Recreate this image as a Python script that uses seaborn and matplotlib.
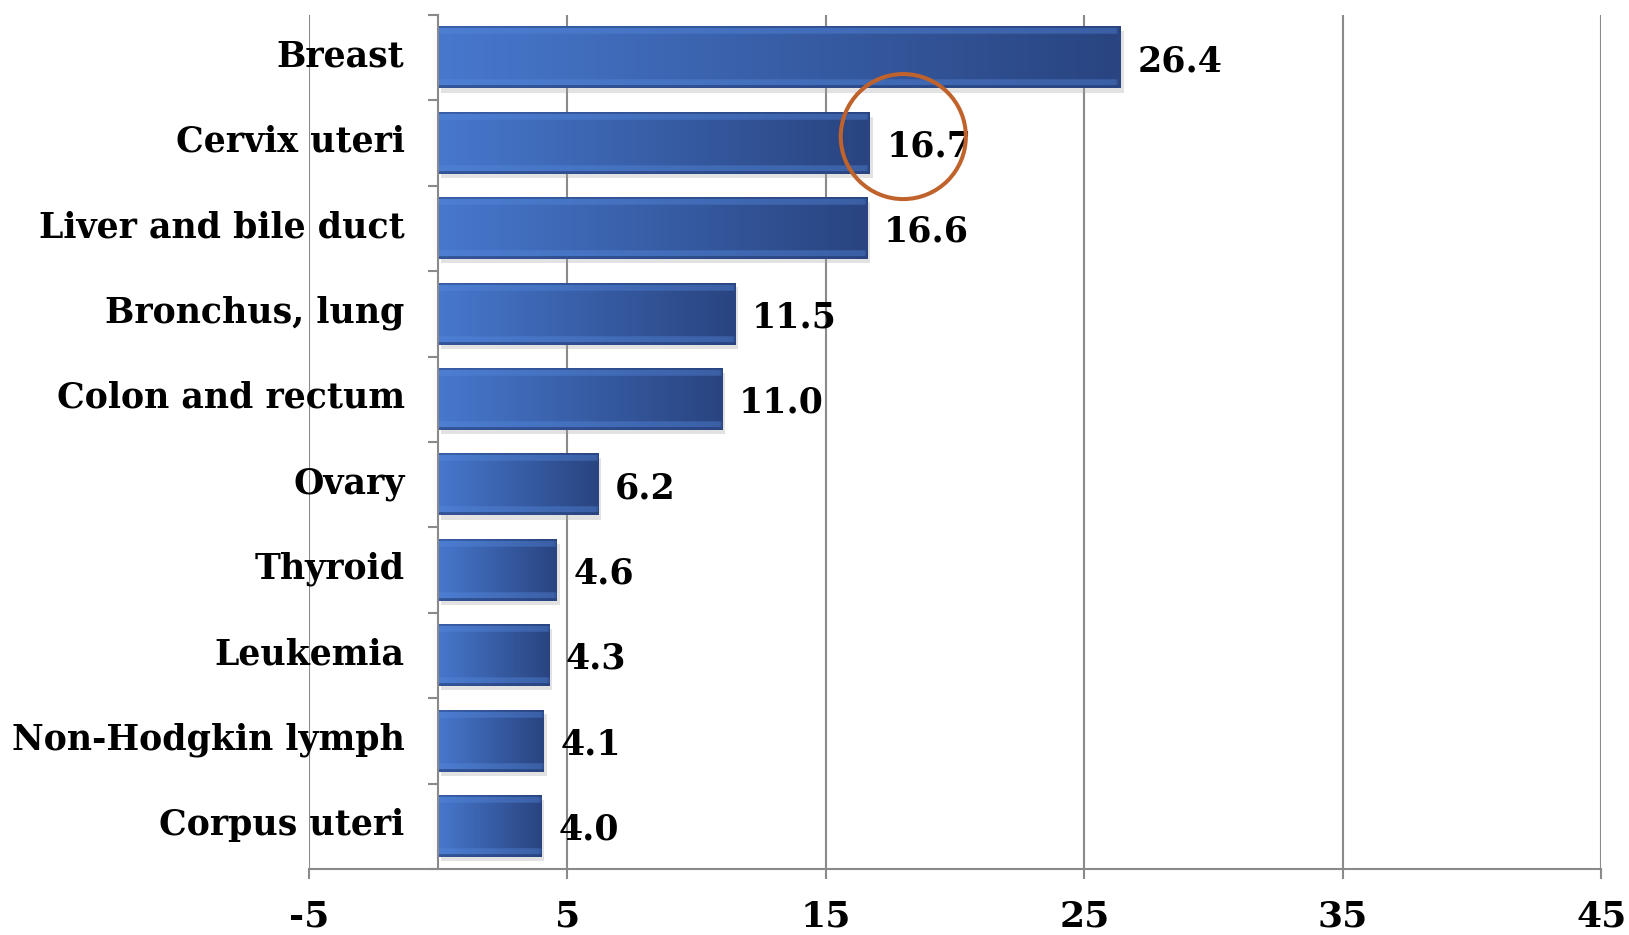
import numpy as np
import matplotlib
matplotlib.use("Agg")
import matplotlib.pyplot as plt
import matplotlib.transforms as mtransforms
import seaborn as sns
import pandas as pd
from matplotlib.patches import Ellipse, Rectangle
from matplotlib.ticker import FixedLocator

sites = ["Breast", "Cervix uteri", "Liver and bile duct", "Bronchus, lung",
         "Colon and rectum", "Ovary", "Thyroid", "Leukemia",
         "Non-Hodgkin lymph", "Corpus uteri"]
rates = [26.4, 16.7, 16.6, 11.5, 11.0, 6.2, 4.6, 4.3, 4.1, 4.0]
x_ticks = [-5, 5, 15, 25, 35, 45]
highlight = "Cervix uteri"

sns.set_theme(style="white")
plt.rcParams["font.family"] = ["DejaVu Serif"]
plt.rcParams["axes.unicode_minus"] = False
gray = "#8a8a8a"

fig = plt.figure(figsize=(16.29, 9.35), dpi=100)
ax = fig.add_axes([0.1895, 0.0706, 0.7935, 0.9134])

df = pd.DataFrame({"site": sites, "rate": rates})
sns.barplot(data=df, x="rate", y="site", orient="h", color="#3c66b8",
            width=0.72, ax=ax, zorder=3, linewidth=0)

# gradient / bevel fill for each bar
left_c = np.array([0x47, 0x78, 0xcd]) / 255
right_c = np.array([0x29, 0x44, 0x80]) / 255
light_c = np.array([0x55, 0x88, 0xdc]) / 255
edge_c = np.array([0x2a, 0x45, 0x82]) / 255
for p in list(ax.patches):
    x0, y0, w, h = p.get_x(), p.get_y(), p.get_width(), p.get_height()
    nx, ny = 400, 64
    t = np.linspace(0, 1, nx)[None, :, None]
    img = left_c * (1 - t) + right_c * t
    img = np.repeat(img, ny, axis=0)
    img[2:8] = img[2:8] * 0.6 + light_c * 0.4
    img[ny - 9:ny - 3] = img[ny - 9:ny - 3] * 0.6 + light_c * 0.4
    img[:2] = img[:2] * 0.5 + edge_c * 0.5
    img[ny - 3:] = img[ny - 3:] * 0.3 + edge_c * 0.7
    ex = max(3, int(nx * 0.12 / w))
    img[:, nx - ex:] = img[:, nx - ex:] * 0.75 + edge_c * 0.25
    img[:, nx - 2:] = edge_c
    ax.add_patch(Rectangle((x0 + 0.12, y0 + 0.05), w, h, color="#a0a0a0",
                           alpha=0.3, zorder=2.5, lw=0))
    ax.imshow(img, extent=[x0, x0 + w, y0 + h, y0], aspect="auto",
              origin="upper", zorder=3.5, interpolation="bilinear")

for i, v in enumerate(rates):
    ax.text(v + 0.65, i + 0.04, f"{v:.1f}", va="center", ha="left",
            fontsize=25, fontweight="bold", color="black", zorder=5)

# highlight circle
hi = sites.index(highlight)
ax.add_patch(Ellipse((rates[hi] + 1.3, hi - 0.076), 4.84, 1.464, fill=False,
                     edgecolor="#c0622b", lw=2.9, zorder=6))

ax.set_xlim(-5, 45)
ax.set_ylim(len(sites) - 0.5, -0.5)
ax.set_xticks(x_ticks)
ax.set_xlabel("")
ax.set_ylabel("")
ax.grid(axis="x", color=gray, lw=1.5, zorder=0)
ax.grid(axis="y", visible=False)

for s in ["top", "right"]:
    ax.spines[s].set_visible(False)
ax.spines["left"].set_position(("data", 0))
ax.spines["left"].set_color(gray)
ax.spines["left"].set_linewidth(1.5)
ax.spines["left"].set_zorder(4)
ax.spines["bottom"].set_color(gray)
ax.spines["bottom"].set_linewidth(1.5)

ax.yaxis.set_minor_locator(FixedLocator(np.arange(-0.5, len(sites), 1.0)))
ax.tick_params(axis="y", which="major", length=0, pad=24, labelsize=25)
ax.tick_params(axis="y", which="minor", length=7, width=1.5, color=gray,
               direction="out", left=True)
ax.tick_params(axis="x", which="major", length=7, width=1.5, color=gray,
               direction="out", bottom=True, pad=15, labelsize=26)
for lab in ax.get_yticklabels() + ax.get_xticklabels():
    lab.set_fontweight("bold")
    lab.set_color("black")
shift_up = mtransforms.ScaledTranslation(0, 3.5 / 72, fig.dpi_scale_trans)
for lab in ax.get_yticklabels():
    lab.set_transform(lab.get_transform() + shift_up)

fig.savefig("out.png", dpi=100)
